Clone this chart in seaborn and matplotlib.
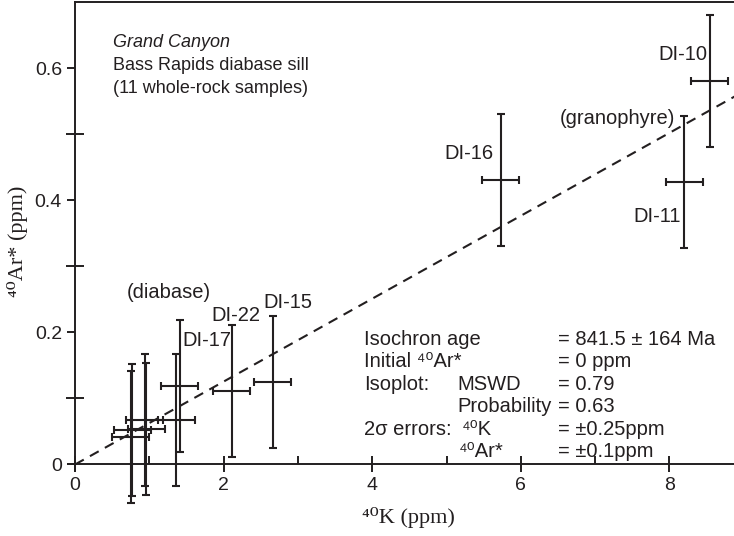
import matplotlib
matplotlib.use("Agg")
import numpy as np
import pandas as pd
import matplotlib.pyplot as plt
import seaborn as sns

# ── data ─────────────────────────────────────────────────────────────────────
sample_ids = ["a", "b", "c", "d", "e", "DI-17", "DI-22", "DI-15", "DI-16", "DI-11", "DI-10"]
k_ppm = [0.75, 0.77, 0.96, 0.94, 1.36, 1.41, 2.11, 2.66, 5.73, 8.20, 8.54]
ar_ppm = [0.042, 0.053, 0.054, 0.067, 0.067, 0.119, 0.111, 0.125, 0.431, 0.428, 0.581]
k_err = 0.25      # 2 sigma, ppm
ar_err = 0.1      # 2 sigma, ppm
isochron_slope = 0.0628
isochron_k = np.array([0.0, 9.0])

x_ticks = [0, 2, 4, 6, 8]
x_minor = [1, 3, 5, 7]
y_ticks = [0, 0.2, 0.4, 0.6]
y_tick_labels = ["0", "0.2", "0.4", "0.6"]
y_minor = [0.1, 0.3, 0.5]

df = pd.DataFrame({"sample": sample_ids, "k": k_ppm, "ar": ar_ppm})

INK = "#231f20"
SANS = ["Liberation Sans", "DejaVu Sans"]
SERIF = ["Liberation Serif", "DejaVu Serif"]

sns.set_theme(style="ticks")
plt.rcParams["font.family"] = SANS

fig = plt.figure(figsize=(7.34, 5.36), dpi=100)
ax = fig.add_axes([0.0921, 0.1211, 0.908, 0.8743])
ax.set_xlim(-0.1, 8.87)
ax.set_ylim(-0.01, 0.70)

# isochron through the origin
sns.lineplot(x=isochron_k, y=isochron_slope * isochron_k, ax=ax,
             color=INK, lw=1.5, linestyle=(0, (4.8, 3.4)), zorder=2)

# error crosses
eb = ax.errorbar(df["k"], df["ar"], xerr=k_err, yerr=ar_err, fmt="none",
                 ecolor=INK, elinewidth=1.5, capsize=3, capthick=1.5, zorder=3)
for child in eb.get_children():
    child.set_clip_on(False)

# spines
for side in ["left", "bottom"]:
    ax.spines[side].set_position(("data", 0))
    ax.spines[side].set_linewidth(1.4)
    ax.spines[side].set_color(INK)
ax.spines["right"].set_visible(False)
ax.spines["top"].set_bounds(0, 8.87)
ax.spines["top"].set_linewidth(1.4)
ax.spines["top"].set_color(INK)

ax.set_xticks(x_ticks)
ax.set_xticklabels([str(t) for t in x_ticks])
ax.set_xticks(x_minor, minor=True)
ax.set_yticks(y_ticks)
ax.set_yticklabels(y_tick_labels)
ax.set_yticks(y_minor, minor=True)

ax.tick_params(axis="x", which="major", direction="inout", length=11.5, width=1.4,
               pad=3.0, color=INK, labelsize=14, labelcolor=INK)
ax.tick_params(axis="x", which="minor", direction="in", length=5.8, width=1.4, color=INK)
ax.tick_params(axis="y", which="major", direction="out", length=5.8, width=1.4,
               pad=3.6, color=INK, labelsize=14, labelcolor=INK)
ax.tick_params(axis="y", which="minor", direction="inout", length=13, width=1.4, color=INK)

ax.set_xlabel("⁴⁰K (ppm)", fontfamily=SERIF, fontsize=16, color=INK)
ax.set_ylabel("⁴⁰Ar* (ppm)", fontfamily=SERIF, fontsize=16, color=INK)
ax.xaxis.set_label_coords(0.511, -0.076)
ax.yaxis.set_label_coords(-0.059, 0.49)

# title block
ft = 13
ax.text(0.51, 0.633, "Grand Canyon", style="italic", fontsize=ft, color=INK)
ax.text(0.51, 0.598, "Bass Rapids diabase sill", fontsize=ft, color=INK)
ax.text(0.51, 0.5625, "(11 whole-rock samples)", fontsize=ft, color=INK)

# sample labels
fs = 14.5
ax.text(0.70, 0.252, "(diabase)", fontsize=fs, color=INK)
ax.text(1.44, 0.180, "DI-17", fontsize=fs, color=INK)
ax.text(1.84, 0.217, "DI-22", fontsize=fs, color=INK)
ax.text(2.53, 0.237, "DI-15", fontsize=fs, color=INK)
ax.text(4.97, 0.463, "DI-16", fontsize=fs, color=INK)
ax.text(8.08, 0.516, "(granophyre)", fontsize=fs, color=INK, ha="right")
ax.text(8.51, 0.613, "DI-10", fontsize=fs, color=INK, ha="right")
ax.text(8.16, 0.367, "DI-11", fontsize=fs, color=INK, ha="right")

# isochron statistics
c1, c2, c3 = 3.89, 5.14, 6.50
rows = [0.181, 0.147, 0.113, 0.079, 0.045, 0.0114]
ax.text(c1, rows[0], "Isochron age", fontsize=fs, color=INK)
ax.text(c3, rows[0], "= 841.5 ± 164 Ma", fontsize=fs, color=INK)
ax.text(c1, rows[1], "Initial ⁴⁰Ar*", fontsize=fs, color=INK)
ax.text(c3, rows[1], "= 0 ppm", fontsize=fs, color=INK)
ax.text(c1, rows[2], "Isoplot:", fontsize=fs, color=INK)
ax.text(c2, rows[2], "MSWD", fontsize=fs, color=INK)
ax.text(c3, rows[2], "= 0.79", fontsize=fs, color=INK)
ax.text(c2, rows[3], "Probability", fontsize=fs, color=INK)
ax.text(c3, rows[3], "= 0.63", fontsize=fs, color=INK)
ax.text(c1, rows[4], "2σ errors:", fontsize=fs, color=INK)
ax.text(c2 + 0.07, rows[4], "⁴⁰K", fontsize=fs, color=INK)
ax.text(c3, rows[4], "= ±0.25ppm", fontsize=fs, color=INK)
ax.text(c2 + 0.02, rows[5], "⁴⁰Ar*", fontsize=fs, color=INK)
ax.text(c3, rows[5], "= ±0.1ppm", fontsize=fs, color=INK)

fig.savefig("out.png", dpi=100)
